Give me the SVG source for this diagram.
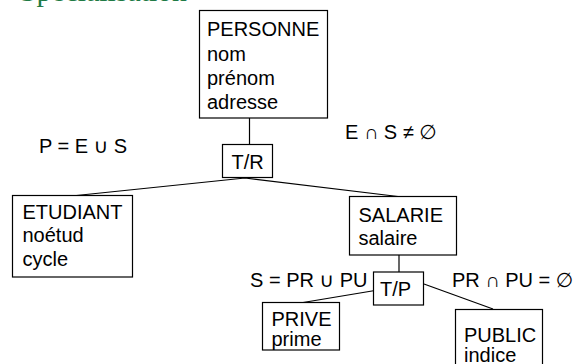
<svg xmlns="http://www.w3.org/2000/svg" width="577" height="364" viewBox="0 0 577 364">
<style>
text{font-family:"Liberation Sans",Arial,"DejaVu Sans",sans-serif;font-size:20px;fill:#000}
.box{fill:#fff;stroke:#000;stroke-width:1.2}
.conn{fill:none;stroke:#000;stroke-width:1.2}
.title{font-family:"Liberation Serif","Times New Roman",serif;font-size:30px;fill:#1f7a45}
</style>
<rect width="577" height="364" fill="#fff"/>
<text class="title" x="20" y="0.7" textLength="167" lengthAdjust="spacingAndGlyphs">Spécialisation</text>
<g id="connectors">
<line class="conn" x1="249.5" y1="118" x2="249.5" y2="144"/>
<polyline class="conn" points="71.5,196 245,178 398,196.5"/>
<line class="conn" x1="399" y1="255" x2="399" y2="272"/>
<line class="conn" x1="375" y1="290.5" x2="303" y2="302.5"/>
<line class="conn" x1="424" y1="284" x2="493" y2="309"/>
</g>
<g id="personne">
<rect class="box" x="199.5" y="10.5" width="128" height="107.5"/>
<text x="207" y="36">PERSONNE</text>
<text x="207" y="61">nom</text>
<text x="207" y="85">prénom</text>
<text x="207" y="109">adresse</text>
</g>
<g id="tr">
<rect class="box" x="222.5" y="144.5" width="50" height="33"/>
<text x="231.5" y="169">T/R</text>
</g>
<g id="etudiant">
<rect class="box" x="12.5" y="195.5" width="120" height="81.5"/>
<text x="22.5" y="218.5">ETUDIANT</text>
<text x="22.5" y="242">noétud</text>
<text x="22.5" y="265.5">cycle</text>
</g>
<g id="salarie">
<rect class="box" x="349.5" y="196.5" width="107" height="58.5"/>
<text x="358.5" y="221.5">SALARIE</text>
<text x="358.5" y="245">salaire</text>
</g>
<g id="tp">
<rect class="box" x="373.5" y="272" width="50" height="33"/>
<text x="380" y="296">T/P</text>
</g>
<g id="prive">
<rect class="box" x="262.5" y="302.5" width="77" height="47.5"/>
<text x="271.5" y="326">PRIVE</text>
<text x="271.5" y="345.5">prime</text>
</g>
<g id="public">
<rect class="box" x="455.5" y="309.5" width="87" height="60"/>
<text x="464" y="341.5">PUBLIC</text>
<text x="464" y="362">indice</text>
</g>
<g id="labels">
<text x="39" y="153">P = E ∪ S</text>
<text x="345" y="139">E ∩ S ≠ ∅</text>
<text x="250" y="286.5">S = PR ∪ PU</text>
<text x="452" y="286.5">PR ∩ PU = ∅</text>
</g>
</svg>
